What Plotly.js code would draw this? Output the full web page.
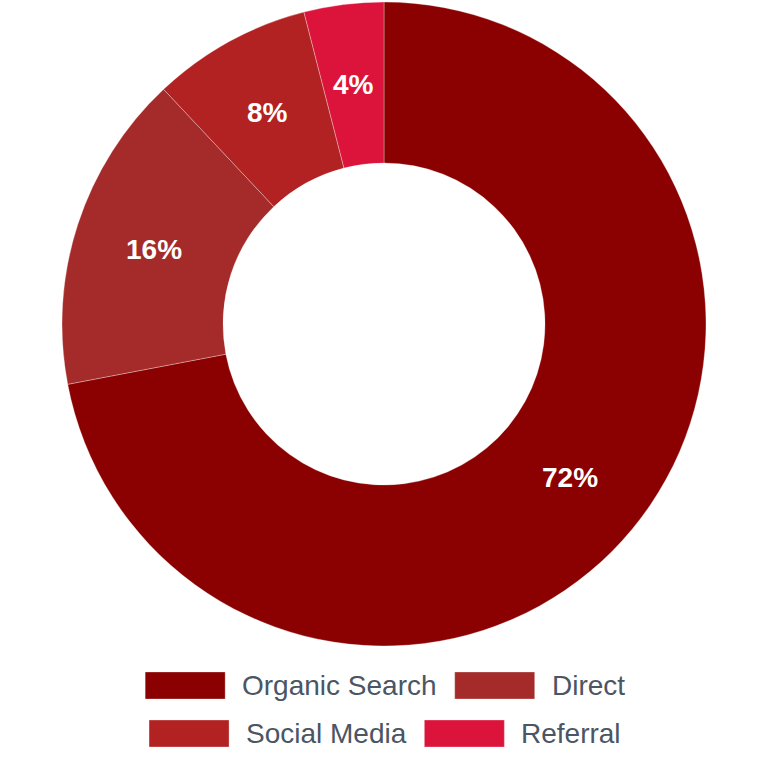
<!DOCTYPE html>
<html>
<head>
<meta charset="utf-8">
<script src="https://cdn.plot.ly/plotly-3.0.1.min.js"></script>
<style>
  html, body { margin: 0; padding: 0; background: #ffffff; }
  #chart { width: 768px; height: 768px; }
</style>
</head>
<body>
<div id="chart"></div>
<script>
// ---- Data ----
const categories = ["Organic Search", "Direct", "Social Media", "Referral"];
const shares = [72, 16, 8, 4];
const sliceColors = ["#8B0000", "#A52A2A", "#B22222", "#DC143C"];

// ---- Layout constants ----
const W = 768, H = 768;
const FONT = "Liberation Sans, Arial, Helvetica, sans-serif";
const legendFontSize = 28;
const legendTextColor = "#4b5563";
const borderColor = "rgba(255,255,255,0.3)";

// pie geometry (pixels)
const pieTop = 2, pieBottom = 646;
const holeFrac = 0.5;
const cx = W / 2, cy = (pieTop + pieBottom) / 2;
const R = (pieBottom - pieTop) / 2;
const rMid = R * (1 + holeFrac) / 2;

// measure text widths for the custom legend
const ctx = document.createElement("canvas").getContext("2d");
ctx.font = legendFontSize + "px 'Liberation Sans'";
function tw(s) { return ctx.measureText(s).width; }

const boxW = 80, boxH = 27, boxGap = 15, itemGap = 20;
const rows = [[0, 1], [2, 3]];
const rowCenters = [685.5, 733.5];

const shapes = [];
const annotations = [];
rows.forEach((row, ri) => {
  const widths = row.map(i => boxW + boxGap + tw(categories[i]));
  const total = widths.reduce((a, b) => a + b, 0) + itemGap * (row.length - 1);
  let x = W / 2 - total / 2;
  const rc = rowCenters[ri];
  row.forEach((i, k) => {
    shapes.push({
      type: "rect", xref: "paper", yref: "paper",
      x0: x / W, x1: (x + boxW) / W,
      y0: 1 - (rc - boxH / 2) / H, y1: 1 - (rc + boxH / 2) / H,
      fillcolor: sliceColors[i],
      line: { color: borderColor, width: 1 }
    });
    annotations.push({
      xref: "paper", yref: "paper",
      x: (x + boxW + boxGap) / W, y: 1 - rc / H,
      xanchor: "left", yanchor: "middle",
      text: categories[i], showarrow: false,
      font: { family: FONT, size: legendFontSize, color: legendTextColor }
    });
    x += widths[k] + itemGap;
  });
});

// percentage labels at the middle of each ring segment (derived from the data)
const total = shares.reduce((a, b) => a + b, 0);
let cum = 0;
shares.forEach((v) => {
  const frac = v / total;
  const mid = (cum + frac / 2) * 2 * Math.PI; // clockwise from 12 o'clock
  cum += frac;
  const px = cx + rMid * Math.sin(mid);
  const py = cy - rMid * Math.cos(mid);
  annotations.push({
    xref: "paper", yref: "paper",
    x: px / W, y: 1 - py / H,
    xanchor: "center", yanchor: "middle",
    text: Math.round(frac * 100) + "%", showarrow: false,
    font: { family: FONT, size: 28, color: "#ffffff", weight: "bold" }
  });
});

const trace = {
  type: "pie",
  labels: categories,
  values: shares,
  hole: holeFrac,
  sort: false,
  direction: "clockwise",
  rotation: 0,
  marker: { colors: sliceColors, line: { color: borderColor, width: 1 } },
  textinfo: "none",
  hoverinfo: "label+percent",
  showlegend: false,
  domain: { x: [0, 1], y: [1 - pieBottom / H, 1 - pieTop / H] }
};

const layout = {
  width: W, height: H,
  margin: { l: 0, r: 0, t: 0, b: 0 },
  paper_bgcolor: "#ffffff",
  plot_bgcolor: "#ffffff",
  showlegend: false,
  shapes: shapes,
  annotations: annotations,
  font: { family: FONT }
};

Plotly.newPlot("chart", [trace], layout, { displayModeBar: false, staticPlot: true });
</script>
</body>
</html>
